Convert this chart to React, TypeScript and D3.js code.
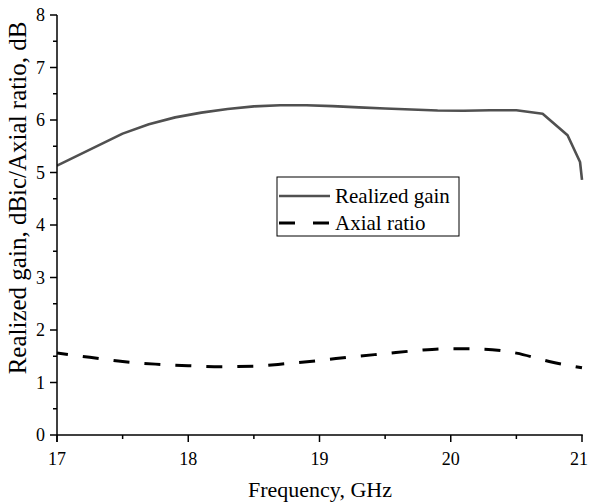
import React from "react";
import * as d3 from "d3";

const freqGain = [17, 17.5, 17.7, 17.9, 18.1, 18.3, 18.5, 18.7, 18.9, 19.1, 19.3, 19.5, 19.7, 19.9, 20.1, 20.3, 20.5, 20.7, 20.89, 20.985, 21];
const gain = [5.13, 5.74, 5.92, 6.05, 6.14, 6.21, 6.26, 6.28, 6.28, 6.265, 6.24, 6.22, 6.2, 6.18, 6.175, 6.185, 6.185, 6.12, 5.71, 5.2, 4.86];

const freqAR = [17, 17.25, 17.5, 17.75, 18, 18.25, 18.5, 18.75, 19, 19.25, 19.5, 19.75, 20, 20.25, 20.5, 20.75, 21];
const axialRatio = [1.56, 1.48, 1.4, 1.35, 1.32, 1.3, 1.31, 1.36, 1.42, 1.49, 1.55, 1.61, 1.645, 1.635, 1.56, 1.4, 1.28];

const xMajor = [17, 18, 19, 20, 21];
const xMinor = [17.5, 18.5, 19.5, 20.5];
const yMajor = [0, 1, 2, 3, 4, 5, 6, 7, 8];
const yMinor = [0.5, 1.5, 2.5, 3.5, 4.5, 5.5, 6.5, 7.5];

const seriesNames = ["Realized gain", "Axial ratio"];

const W = 589;
const H = 503;
const L = 57, R = 582, T = 15, B = 435;
const FONT = '"Liberation Serif", "Times New Roman", "DejaVu Serif", serif';

export default function App() {
  const x = d3.scaleLinear().domain([17, 21]).range([L, R]);
  const y = d3.scaleLinear().domain([0, 8]).range([B, T]);

  const gainLine = d3
    .line<number>()
    .x((_, i) => x(freqGain[i]))
    .y((d) => y(d))
    .curve(d3.curveLinear);
  const arLine = d3
    .line<number>()
    .x((_, i) => x(freqAR[i]))
    .y((d) => y(d))
    .curve(d3.curveMonotoneX);

  const lgX = 277, lgY = 177, lgW = 182, lgH = 59;
  const ts = { fontFamily: FONT };

  return (
    <svg
      width={W}
      height={H}
      style={{ position: "absolute", left: 0, top: 0, background: "#fff" }}
    >
      <defs>
        <clipPath id="plotclip">
          <rect x={L} y={T - 5} width={R - L + 2} height={B - T + 5} />
        </clipPath>
      </defs>
      <g clipPath="url(#plotclip)">
        <path d={gainLine(gain) || ""} fill="none" stroke="#505050" strokeWidth={2.6} strokeLinejoin="round" />
        <path d={arLine(axialRatio) || ""} fill="none" stroke="#000" strokeWidth={3} strokeDasharray="16 15" strokeDashoffset={5} />
      </g>

      {/* axes */}
      <line x1={L} x2={L} y1={T} y2={B + 7} stroke="#000" strokeWidth={1.5} />
      <line x1={L} x2={R + 0.75} y1={B} y2={B} stroke="#000" strokeWidth={1.5} />

      {xMajor.map((v, i) => (
        <g key={"xm" + v}>
          <line x1={x(v)} x2={x(v)} y1={B} y2={B + 7} stroke="#000" strokeWidth={1.5} />
          <text x={x(v) - (i === xMajor.length - 1 ? 3 : 0)} y={B + 30} fontSize={18} textAnchor="middle" style={ts}>
            {v}
          </text>
        </g>
      ))}
      {xMinor.map((v) => (
        <line key={"xn" + v} x1={x(v)} x2={x(v)} y1={B} y2={B + 4} stroke="#000" strokeWidth={1.5} />
      ))}
      {yMajor.map((v) => (
        <g key={"ym" + v}>
          <line x1={L - 7} x2={L} y1={y(v)} y2={y(v)} stroke="#000" strokeWidth={1.5} />
          <text x={L - 12} y={y(v)} dy="0.35em" fontSize={18} textAnchor="end" style={ts}>
            {v}
          </text>
        </g>
      ))}
      {yMinor.map((v) => (
        <line key={"yn" + v} x1={L - 4} x2={L} y1={y(v)} y2={y(v)} stroke="#000" strokeWidth={1.5} />
      ))}

      <text x={320} y={497} fontSize={22} textAnchor="middle" style={ts}>
        Frequency, GHz
      </text>
      <text transform="translate(26,198) rotate(-90)" fontSize={25} textAnchor="middle" style={ts}>
        Realized gain, dBic/Axial ratio, dB
      </text>

      {/* legend */}
      <rect x={lgX} y={lgY} width={lgW} height={lgH} fill="#fff" stroke="#000" strokeWidth={1} />
      <line x1={lgX + 2} x2={lgX + 53} y1={lgY + 19} y2={lgY + 19} stroke="#505050" strokeWidth={2.6} />
      <text x={lgX + 58} y={lgY + 26} fontSize={21} style={ts}>
        {seriesNames[0]}
      </text>
      <line x1={lgX + 2} x2={lgX + 53} y1={lgY + 46} y2={lgY + 46} stroke="#000" strokeWidth={3} strokeDasharray="16 18" />
      <text x={lgX + 58} y={lgY + 53} fontSize={21} style={ts}>
        {seriesNames[1]}
      </text>
    </svg>
  );
}
